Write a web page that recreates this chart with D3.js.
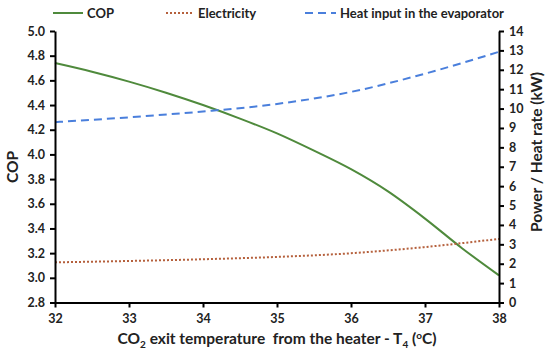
<!DOCTYPE html>
<html><head><meta charset="utf-8">
<script src="https://cdn.jsdelivr.net/npm/d3@7"></script>
<style>body{margin:0;background:#fff}svg{display:block;font-family:Lato,"Open Sans",sans-serif;font-weight:bold}</style>
</head><body><svg id="c" width="550" height="352"></svg>
<script>
const temps = [32, 32.5, 33, 33.5, 34, 34.5, 35, 35.5, 36, 36.5, 37, 37.5, 38];
const cop = [4.74, 4.67, 4.59, 4.50, 4.40, 4.29, 4.17, 4.03, 3.88, 3.70, 3.48, 3.24, 3.02];
const tempsP = [32, 33, 34, 35, 36, 37, 38];
const electricity = [2.07, 2.14, 2.23, 2.35, 2.54, 2.86, 3.28];
const heatInput = [9.30, 9.55, 9.85, 10.24, 10.86, 11.80, 12.93];
const xTicks = [32, 33, 34, 35, 36, 37, 38];
const copTicks = [2.8, 3.0, 3.2, 3.4, 3.6, 3.8, 4.0, 4.2, 4.4, 4.6, 4.8, 5.0];
const kwTicks = d3.range(0, 15);
const legendLabels = ["COP", "Electricity", "Heat input in the evaporator"];

const svg = d3.select("#c");
const L = 55, R = 499, T = 31, B = 302.5;
const x = d3.scaleLinear().domain([32, 38]).range([L, R]);
const yL = d3.scaleLinear().domain([2.8, 5.0]).range([B, T]);
const yR = d3.scaleLinear().domain([0, 14]).range([B, T]);

const cGreen = "#4f8a3c", cRed = "#b5603c", cBlue = "#4a7fdc";

// series
svg.append("path").attr("d", d3.line().x((d,i)=>x(temps[i])).y(d=>yL(d)).curve(d3.curveMonotoneX)(cop))
  .attr("fill","none").attr("stroke",cGreen).attr("stroke-width",2);
svg.append("path").attr("d", d3.line().x((d,i)=>x(tempsP[i])).y(d=>yR(d)).curve(d3.curveMonotoneX)(electricity))
  .attr("fill","none").attr("stroke",cRed).attr("stroke-width",2).attr("stroke-dasharray","2,2");
svg.append("path").attr("d", d3.line().x((d,i)=>x(tempsP[i])).y(d=>yR(d)).curve(d3.curveMonotoneX)(heatInput))
  .attr("fill","none").attr("stroke",cBlue).attr("stroke-width",2).attr("stroke-dasharray","8,5");

// axes
function style(g){ g.select(".domain").attr("stroke","#000").attr("stroke-width",2);
  g.selectAll(".tick line").attr("stroke","#000").attr("stroke-width",2);
  g.selectAll(".tick text").attr("fill","#222").attr("font-size",12.5).attr("font-weight","bold").attr("font-family","Lato,'Open Sans',sans-serif"); }
svg.append("g").attr("transform",`translate(0,${B})`)
  .call(d3.axisBottom(x).tickValues(xTicks).tickSize(5).tickSizeOuter(0).tickPadding(7).tickFormat(d3.format("d"))).call(style);
svg.append("g").attr("transform",`translate(${L},0)`)
  .call(d3.axisLeft(yL).tickValues(copTicks).tickSize(5).tickSizeOuter(0).tickPadding(5).tickFormat(d3.format(".1f"))).call(style);
svg.append("g").attr("transform",`translate(${R},0)`)
  .call(d3.axisRight(yR).tickValues(kwTicks).tickSize(5).tickSizeOuter(0).tickPadding(5).tickFormat(d3.format("d"))).call(style);

// titles
const xt = svg.append("text").attr("x",(L+R)/2).attr("y",344).attr("text-anchor","middle").attr("font-size",15.5)
  .attr("fill","#222").style("white-space","pre");
xt.append("tspan").text("CO");
xt.append("tspan").text("2").attr("font-size",10).attr("dy",4);
xt.append("tspan").text(" exit temperature  from the heater - T").attr("dy",-4);
xt.append("tspan").text("4").attr("font-size",10).attr("dy",4);
xt.append("tspan").text(" (").attr("dy",-4);
xt.append("tspan").text("o").attr("font-size",10).attr("dy",-5);
xt.append("tspan").text("C)").attr("dy",5);

svg.append("text").attr("transform","translate(18,167) rotate(-90)").attr("text-anchor","middle")
  .attr("font-size",15.5).attr("fill","#222").text("COP");
svg.append("text").attr("transform","translate(542,152) rotate(-90)").attr("text-anchor","middle")
  .attr("font-size",15.5).attr("fill","#222").text("Power / Heat rate (kW)");

// legend
const leg = [
  {x1:53,x2:83,tx:87,c:cGreen,da:null},
  {x1:166,x2:193,tx:198,c:cRed,da:"2,2"},
  {x1:305,x2:336,tx:340,c:cBlue,da:"8,5"}
];
leg.forEach((l,i)=>{
  svg.append("line").attr("x1",l.x1).attr("x2",l.x2).attr("y1",13).attr("y2",13)
    .attr("stroke",l.c).attr("stroke-width",2).attr("stroke-dasharray",l.da);
  svg.append("text").attr("x",l.tx).attr("y",18).attr("font-size",13).attr("fill","#222").text(legendLabels[i]);
});
</script></body></html>
